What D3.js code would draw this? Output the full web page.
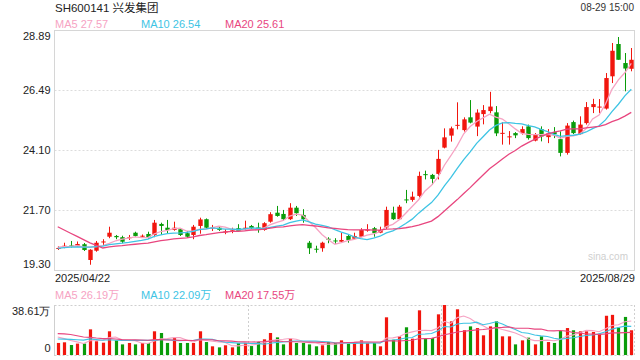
<!DOCTYPE html>
<html><head><meta charset="utf-8">
<script src="https://cdn.jsdelivr.net/npm/d3@7"></script>
<style>
html,body{margin:0;padding:0;background:#fff;}
svg{display:block;font-family:"Liberation Sans",Arial,"Noto Sans CJK SC",sans-serif;}
</style></head><body>
<svg id="c" width="640" height="360"></svg>
<script>
const title = "SH600141 兴发集团";
const stamp = "08-29 15:00";
const dates = ["04/22","04/23","04/24","04/25","04/28","04/29","04/30",
"05/06","05/07","05/08","05/09","05/12","05/13","05/14","05/15","05/16","05/19","05/20","05/21","05/22","05/23","05/26","05/27","05/28","05/29","05/30",
"06/03","06/04","06/05","06/06","06/09","06/10","06/11","06/12","06/13","06/16","06/17","06/18","06/19","06/20","06/23","06/24","06/25","06/26","06/27","06/30",
"07/01","07/02","07/03","07/04","07/07","07/08","07/09","07/10","07/11","07/14","07/15","07/16","07/17","07/18","07/21","07/22","07/23","07/24","07/25","07/28","07/29","07/30","07/31",
"08/01","08/04","08/05","08/06","08/07","08/08","08/11","08/12","08/13","08/14","08/15","08/18","08/19","08/20","08/21","08/22","08/25","08/26","08/27","08/28","08/29"];
const open  = [20.15,20.24,20.28,20.27,20.33,19.70,20.07,20.41,20.63,20.66,20.61,20.58,20.79,20.64,20.74,20.70,21.14,20.99,20.90,20.93,20.77,20.70,21.06,21.33,20.97,20.99,20.81,20.88,20.97,20.94,21.06,21.00,20.90,21.23,21.59,21.54,21.33,21.79,21.50,20.39,20.15,20.17,20.55,20.48,20.43,20.66,20.55,20.63,20.88,20.97,20.79,21.00,21.59,21.33,22.12,22.10,22.26,23.13,23.10,23.14,24.19,24.67,25.06,24.89,25.40,25.03,25.53,25.65,25.60,24.74,24.61,24.77,24.77,25.04,24.47,24.93,24.61,24.81,24.53,23.98,25.21,24.73,25.17,25.81,25.79,25.75,27.04,28.33,27.57,27.34];
const high  = [20.25,20.39,20.46,20.44,20.38,20.13,20.46,20.53,21.03,20.70,20.67,20.70,20.83,20.72,20.83,21.30,21.19,21.30,21.23,20.97,20.86,21.10,21.39,21.36,21.10,21.02,20.93,20.99,21.13,21.27,21.10,21.19,21.21,21.61,21.86,21.70,21.97,21.86,21.73,20.46,20.27,20.43,20.61,20.57,20.79,20.70,20.79,20.97,21.13,21.02,21.03,21.83,21.83,21.90,22.50,22.43,23.23,23.27,23.14,24.10,24.96,25.03,26.00,25.40,26.09,25.72,25.89,26.42,25.85,25.20,24.85,24.81,25.04,25.11,24.77,25.04,24.93,25.01,24.84,25.17,25.27,25.44,26.01,26.14,26.13,27.17,28.37,28.61,27.97,28.17];
const low   = [20.10,20.17,20.20,20.23,20.06,19.51,20.03,20.30,20.57,20.53,20.37,20.50,20.63,20.58,20.54,20.61,20.70,20.77,20.87,20.66,20.58,20.53,20.75,20.95,20.86,20.86,20.73,20.77,20.83,20.90,20.93,20.79,20.87,21.19,21.43,21.27,21.30,21.46,21.19,19.94,19.99,20.03,20.37,20.34,20.42,20.39,20.53,20.61,20.83,20.63,20.77,20.94,21.30,21.30,21.97,22.03,22.20,22.92,22.70,22.92,24.16,24.43,24.92,24.83,25.16,24.65,25.12,25.56,24.65,24.31,24.31,24.57,24.71,24.51,24.44,24.44,24.37,24.57,23.84,23.91,24.73,24.71,25.11,25.57,25.57,25.71,26.77,27.70,26.44,27.24];
const close = [20.18,20.27,20.25,20.34,20.10,20.11,20.39,20.44,20.79,20.61,20.43,20.61,20.66,20.67,20.61,21.19,21.06,20.90,20.99,20.70,20.63,21.03,21.32,20.99,21.00,20.90,20.84,20.91,20.86,20.99,20.97,20.90,21.17,21.53,21.46,21.33,21.79,21.57,21.33,20.17,20.12,20.39,20.52,20.45,20.50,20.50,20.66,20.90,20.91,20.77,20.90,21.70,21.33,21.83,22.09,22.23,23.06,23.09,22.94,23.74,24.60,24.96,25.10,25.32,25.19,25.59,25.69,25.83,24.76,24.78,24.64,24.68,24.93,24.57,24.71,24.64,24.77,24.73,23.98,25.07,24.77,25.11,25.81,25.93,25.83,26.97,28.06,27.70,27.35,27.70];
const volume = [9.3,9.8,7.7,8.8,8.8,19.8,10.6,9.5,18.3,11.3,8.2,9.3,8.2,9.3,9.3,18.3,17.0,9.3,13.1,9.3,9.3,9.3,18.3,10.0,6.7,5.9,7.5,5.9,9.3,9.3,6.9,10.0,12.1,17.0,13.6,8.2,12.6,9.3,9.3,8.2,6.7,7.5,10.0,9.3,11.3,8.8,9.3,11.3,9.3,9.3,6.7,29.1,11.8,14.4,21.4,12.6,34.5,12.6,13.1,31.4,38.61,26.0,35.3,19.1,22.1,20.8,15.2,22.1,26.0,14.4,14.4,8.2,11.3,13.4,8.2,14.4,10.0,9.3,18.5,20.8,19.1,18.3,18.3,17.8,16.5,30.3,31.0,21.2,29.4,19.1];
// closes / volumes of the 19 sessions before the window (estimated from where the MA lines start)
const priorCloses = [22.9,22.8,22.9,22.7,22.6,22.5,22.5,19.9,20.0,20.1,20.0,20.1,20.2,20.2,20.1,20.2,20.2,20.2,20.3];
const priorVolumes = [14,16,30,28,24,22,18,17,19,18,11,10,12,11,10.5,16,15,14,15.2];
const priceTicks = [19.30,21.70,24.10,26.49,28.89];
const volTicks = [0,38.61];
const volTickLabels = ["0","38.61万"];
const maPeriods = [5,10,20];
const priceLegend = ["MA5 27.57","MA10 26.54","MA20 25.61"];
const volLegend = ["MA5 26.19万","MA10 22.09万","MA20 17.55万"];
const dateLabels = ["2025/04/22","2025/08/29"];
const maColors = ["#f6a3c3","#3ec4e4","#e8467f"];
const upColor = "#f1160e", downColor = "#0a9c0a";

const svg = d3.select("#c");
const L = 54.5, R = 634.5, T = 30, B = 270, VT = 305, VB = 355;
const x = d3.scaleBand().domain(dates).range([L, R]);
const bw = x.bandwidth();
const cx = i => x(dates[i]) + bw / 2;
const y = d3.scaleLinear().domain([priceTicks[0], priceTicks[priceTicks.length-1]]).range([B, T]);
const vy = d3.scaleLinear().domain([0, d3.max(volTicks)]).range([VB, VT]);

function ma(all, prior, n) {
  const s = prior.concat(all), off = prior.length;
  return all.map((_, i) => d3.mean(s.slice(off + i - n + 1, off + i + 1)));
}

// header
svg.append("text").attr("x", 55).attr("y", 12).attr("font-size", 11.5).attr("fill", "#222").text(title);
svg.append("text").attr("x", 634).attr("y", 11).attr("text-anchor", "end").attr("font-size", 10).attr("fill", "#333").text(stamp);
const legX = [55, 141, 225];
priceLegend.forEach((t, k) => svg.append("text").attr("x", legX[k]).attr("y", 27.5).attr("font-size", 11).attr("fill", maColors[k]).text(t));
volLegend.forEach((t, k) => svg.append("text").attr("x", legX[k]).attr("y", 298.5).attr("font-size", 11).attr("fill", maColors[k]).text(t));

// price panel grid
const g = svg.append("g");
g.selectAll("line.grid").data(priceTicks.slice(1, -1)).join("line")
  .attr("x1", L).attr("x2", R).attr("y1", d => Math.round(y(d)) + 0.5).attr("y2", d => Math.round(y(d)) + 0.5)
  .attr("stroke", "#dcdcdc").attr("stroke-dasharray", "2,2");
g.append("rect").attr("x", L).attr("y", T + 0.5).attr("width", R - L).attr("height", B - T)
  .attr("fill", "none").attr("stroke", "#d6d6d6");

// price axis
const ya = svg.append("g").attr("transform", `translate(${L},0)`)
  .call(d3.axisLeft(y).tickValues(priceTicks).tickSize(0).tickPadding(4).tickFormat(d3.format(".2f")));
ya.select(".domain").remove();
ya.selectAll("text").attr("font-size", 11).attr("fill", "#222").attr("font-family", "Liberation Sans, Arial, sans-serif")
  .attr("dy", (d, i) => i === 0 ? "-0.25em" : (i === priceTicks.length - 1 ? "0.85em" : "0.32em"));

// date labels
svg.append("text").attr("x", 55).attr("y", 282).attr("font-size", 11).attr("fill", "#222").text(dateLabels[0]);
svg.append("text").attr("x", 635).attr("y", 282).attr("text-anchor", "end").attr("font-size", 11).attr("fill", "#222").text(dateLabels[1]);

// watermark
svg.append("text").attr("x", 628).attr("y", 260).attr("text-anchor", "end").attr("font-size", 10).attr("fill", "#cfcfcf").text("sina.com");

// candles
const idx = d3.range(dates.length);
const col = i => close[i] >= open[i] ? upColor : downColor;
const cg = svg.append("g");
cg.selectAll("line.wick").data(idx).join("line")
  .attr("x1", i => Math.round(cx(i)) + 0.5).attr("x2", i => Math.round(cx(i)) + 0.5)
  .attr("y1", i => y(high[i])).attr("y2", i => y(low[i])).attr("stroke", col);
const cbw = 4.4;
cg.selectAll("rect.body").data(idx).join("rect")
  .attr("x", i => Math.round(cx(i)) + 0.5 - cbw / 2).attr("width", cbw)
  .attr("y", i => y(Math.max(open[i], close[i])))
  .attr("height", i => Math.max(1, Math.abs(y(open[i]) - y(close[i]))))
  .attr("fill", col);

// price MA lines
const line = d3.line().x((d, i) => cx(i)).y(d => y(d));
maPeriods.forEach((n, k) => {
  svg.append("path").datum(ma(close, priorCloses, n)).attr("d", line)
    .attr("fill", "none").attr("stroke", maColors[k]).attr("stroke-width", 1.3);
});

// volume panel
const vg = svg.append("g");
vg.append("line").attr("x1", L).attr("x2", R).attr("y1", VT + 0.5).attr("y2", VT + 0.5).attr("stroke", "#cfcfcf").attr("stroke-dasharray", "2,2");
vg.append("line").attr("x1", L).attr("x2", R).attr("y1", VB + 0.5).attr("y2", VB + 0.5).attr("stroke", "#cfcfcf").attr("stroke-dasharray", "2,2");
vg.append("line").attr("x1", R).attr("x2", R).attr("y1", VT).attr("y2", VB).attr("stroke", "#cfcfcf").attr("stroke-dasharray", "2,2");
[1, 2].forEach(k => {
  const xx = Math.round(L + (R - L) * k / 3) + 0.5;
  vg.append("line").attr("x1", xx).attr("x2", xx).attr("y1", VT).attr("y2", VB).attr("stroke", "#cfcfcf").attr("stroke-dasharray", "2,2");
});
vg.append("line").attr("x1", L).attr("x2", L).attr("y1", VT).attr("y2", VB + 1).attr("stroke", "#cfcfcf");

const va = svg.append("g").attr("transform", `translate(${L},0)`)
  .call(d3.axisLeft(vy).tickValues(volTicks).tickSize(0).tickPadding(4).tickFormat((d, i) => volTickLabels[i]));
va.select(".domain").remove();
va.selectAll("text").attr("font-size", 11).attr("fill", "#222")
  .attr("dy", (d, i) => i === 0 ? "-0.3em" : "0.9em");

const vbw = 3.2;
vg.selectAll("rect.vol").data(idx).join("rect")
  .attr("x", i => Math.round(cx(i)) + 0.5 - vbw / 2).attr("width", vbw)
  .attr("y", i => vy(volume[i])).attr("height", i => VB - vy(volume[i]))
  .attr("fill", col);

const vline = d3.line().x((d, i) => cx(i)).y(d => vy(d));
maPeriods.forEach((n, k) => {
  svg.append("path").datum(ma(volume, priorVolumes, n)).attr("d", vline)
    .attr("fill", "none").attr("stroke", maColors[k]).attr("stroke-width", 1.1);
});
</script>
</body></html>
